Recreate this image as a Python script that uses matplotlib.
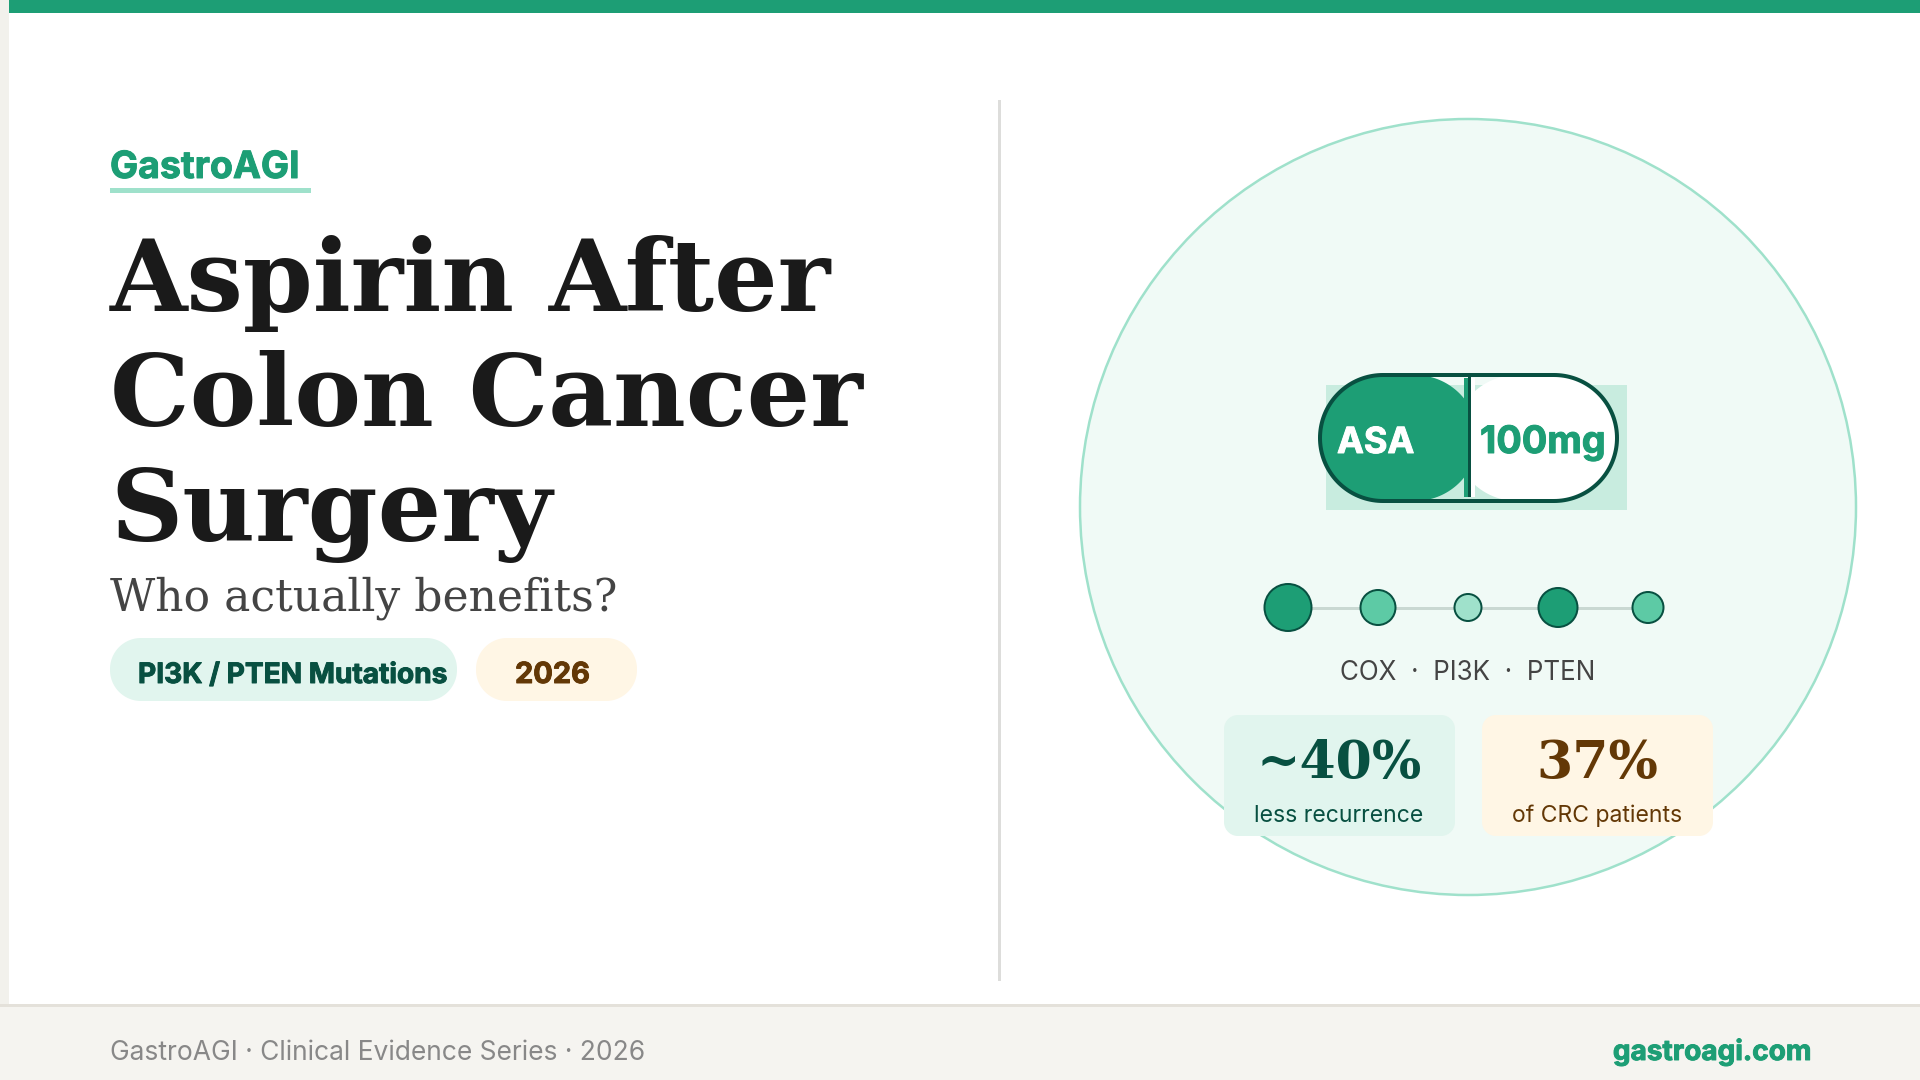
import numpy as np
import matplotlib
matplotlib.use('Agg')
import matplotlib.pyplot as plt
import matplotlib.patheffects as pe
from matplotlib.patches import Circle, Rectangle, Polygon

SANS = ['Inter', 'DejaVu Sans']
SERIF = 'DejaVu Serif'

GREEN = '#1D9E75'
DARK = '#085041'
MINT = '#9FE1CB'
MID = '#5DCAA5'
PALE = '#E1F5EE'
CREAM = '#FFF6E5'
BROWN = '#633806'

title_lines = ['Aspirin After', 'Colon Cancer', 'Surgery']
title_y = [311, 426, 541]
dot_x = [1288, 1378, 1468, 1558, 1648]
dot_r = [23.5, 17.5, 13.5, 19.5, 15.5]
dot_colors = [GREEN, MID, MINT, GREEN, MID]
stat_values = ['~40%', '37%']
stat_labels = ['less recurrence', 'of CRC patients']


def px(n):
    return n * 0.72


def rbox(ax, x0, y0, x1, y1, r, **kw):
    # rounded rectangle with true circular corners
    pts = []
    for cx, cy, a in [(x1 - r, y0 + r, -90), (x1 - r, y1 - r, 0), (x0 + r, y1 - r, 90), (x0 + r, y0 + r, 180)]:
        t = np.radians(np.linspace(a, a + 90, 40))
        pts.append(np.column_stack([cx + r * np.cos(t), cy + r * np.sin(t)]))
    b = Polygon(np.vstack(pts), closed=True, **kw)
    ax.add_patch(b)
    return b


def bold(ax, x, y, s, size, color, **kw):
    # thicken a little, the original face is heavier than Inter bold
    t = ax.text(x, y, s, family=SANS, weight='bold', fontsize=px(size), color=color, **kw)
    t.set_path_effects([pe.withStroke(linewidth=0.7, foreground=color)])
    return t


fig = plt.figure(figsize=(19.2, 10.8), dpi=100, facecolor='white')
ax = fig.add_axes([0, 0, 1, 1])
ax.set_xlim(0, 1920)
ax.set_ylim(1080, 0)
ax.axis('off')

# frame
ax.add_patch(Rectangle((0, 0), 9, 1080, fc='#F2F1EC', ec='none'))
ax.add_patch(Rectangle((9, 0), 1911, 13, fc=GREEN, ec='none'))
ax.add_patch(Rectangle((0, 1007), 1920, 73, fc='#F5F4F0', ec='none'))
ax.add_patch(Rectangle((0, 1004), 1920, 3, fc='#E4E1DA', ec='none'))
ax.add_patch(Rectangle((998, 100), 3, 881, fc='#DDDDDB', ec='none'))

# left column
bold(ax, 110, 178, 'GastroAGI', 37.5, GREEN)
ax.add_patch(Rectangle((110, 188), 201, 5, fc=MINT, ec='none'))
for line, y in zip(title_lines, title_y):
    ax.text(110, y, line, family=SERIF, weight='bold', fontsize=px(100), color='#1A1A1A')
ax.text(110, 611, 'Who actually benefits?', family=SERIF, fontsize=px(44), color='#444444')
rbox(ax, 110, 638, 457, 701, 31, fc=PALE, ec='none')
bold(ax, 138, 683, 'PI3K / PTEN Mutations', 28.1, DARK)
rbox(ax, 476, 638, 637, 701, 31, fc=CREAM, ec='none')
bold(ax, 515, 683, '2026', 29, BROWN)

# big circle
ax.add_patch(Circle((1468, 507), 388, fc='#F0FAF6', ec=MINT, lw=px(2.5)))

# capsule
ax.add_patch(Rectangle((1326, 385), 301, 125, fc='#C8ECDF', ec='none'))
left = rbox(ax, 1319, 375, 1478, 501, 63, fc=GREEN, ec='none')
left.set_clip_path(Rectangle((1300, 360), 169, 160, transform=ax.transData))
ax.add_patch(Rectangle((1464, 378), 5, 119, fc=GREEN, ec='none'))
right = rbox(ax, 1454, 375, 1617, 501, 63, fc='white', ec='none')
right.set_clip_path(Rectangle((1474, 360), 170, 160, transform=ax.transData))
ax.add_patch(Rectangle((1469, 378), 6, 119, fc='white', ec='none'))
rbox(ax, 1320, 375, 1617, 501, 63, fc='none', ec=DARK, lw=px(4))
ax.add_patch(Rectangle((1467.5, 377), 3, 120, fc=DARK, ec='none'))
bold(ax, 1337, 453, 'ASA', 36, 'white')
bold(ax, 1480, 453, '100mg', 37.8, GREEN)

# pathway dots
ax.plot([dot_x[0], dot_x[-1]], [607.5, 607.5], color='#C9D8D2', lw=px(3), zorder=2)
for x, r, c in zip(dot_x, dot_r, dot_colors):
    ax.add_patch(Circle((x, 607.5), r, fc=c, ec=DARK, lw=px(2), zorder=3))
ax.text(1468, 673.5, 'COX  ·  PI3K  ·  PTEN', family=SANS, fontsize=px(26), color='#444444',
        ha='center', va='center')

# stat cards
rbox(ax, 1224, 715, 1455, 836, 14, fc=PALE, ec='none')
rbox(ax, 1482, 715, 1713, 836, 14, fc=CREAM, ec='none')
for cx, val, lab, c in zip([1339, 1597], stat_values, stat_labels, [DARK, BROWN]):
    ax.text(cx, 778, val, family=SERIF, weight='bold', fontsize=px(52), color=c, ha='center')
    ax.text(cx, 822, lab, family=SANS, fontsize=px(23), color=c, ha='center')

# footer
ax.text(110, 1060, 'GastroAGI · Clinical Evidence Series · 2026', family=SANS, fontsize=px(26.4), color='#888888')
bold(ax, 1811, 1060, 'gastroagi.com', 28, GREEN, ha='right')

fig.savefig('out.png', dpi=100)
